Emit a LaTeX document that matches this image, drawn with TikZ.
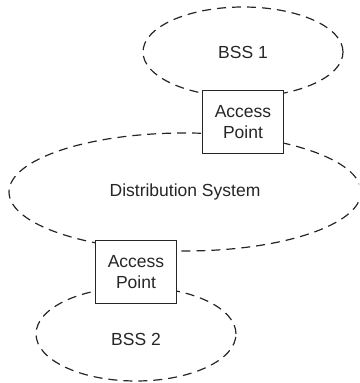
\documentclass[tikz,border=0pt]{standalone}
\usepackage{fontspec}
\setmainfont{Liberation Sans}
\begin{document}
\begin{tikzpicture}[x=1pt,y=1pt,
  cloud/.style={draw=black!85,line width=1.2pt,dash pattern=on 9pt off 6pt},
  apbox/.style={draw=black!85,line width=1.2pt,fill=white,minimum width=81pt,minimum height=63pt,align=center,inner sep=0pt,font=\fontsize{17.5}{20.5}\selectfont,text=black!85},
  lbl/.style={font=\fontsize{17.5}{20.5}\selectfont,text=black!85}]
\useasboundingbox (0,0) rectangle (359,383);
\clip (0,0) rectangle (359,383);
\draw[cloud] (185,191) ellipse [x radius=176pt,y radius=59pt];
\draw[cloud] (243,331) ellipse [x radius=100pt,y radius=45pt];
\draw[cloud] (136,49) ellipse [x radius=100pt,y radius=47pt];
\node[apbox] (ap1) at (243,261) {Access\\Point};
\node[apbox] (ap2) at (136,111) {Access\\Point};
\node[lbl] (bss1) at (243,331) {BSS 1};
\node[lbl] (ds) at (185,191) {Distribution System};
\node[lbl] (bss2) at (136,44) {BSS 2};
\end{tikzpicture}
\end{document}
